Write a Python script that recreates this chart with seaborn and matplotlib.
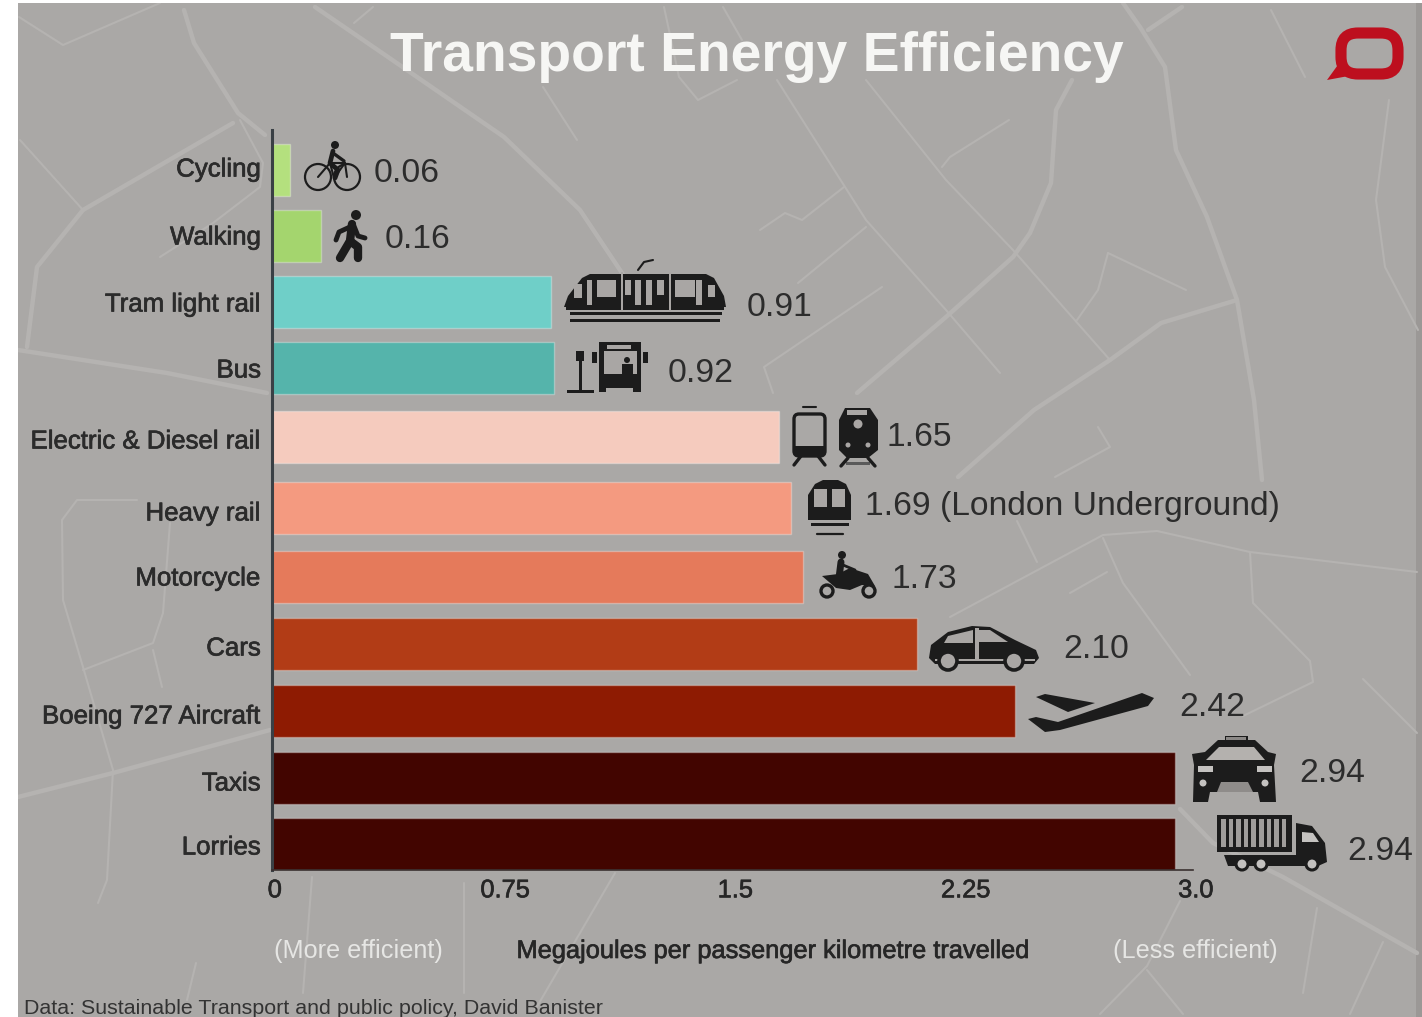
#!/usr/bin/python

import matplotlib
matplotlib.use("Agg")
import matplotlib.pyplot as plt
import matplotlib.patheffects as pe
from matplotlib.patches import Circle, FancyBboxPatch, Polygon, Rectangle
from matplotlib.transforms import ScaledTranslation
import pandas as pd
import seaborn as sns

W, H = 1422, 1017

categories = ["Cycling", "Walking", "Tram light rail", "Bus", "Electric & Diesel rail", "Heavy rail",
              "Motorcycle", "Cars", "Boeing 727 Aircraft", "Taxis", "Lorries"]
values = [0.06, 0.16, 0.91, 0.92, 1.65, 1.69, 1.73, 2.10, 2.42, 2.94, 2.94]
value_labels = ["0.06", "0.16", "0.91", "0.92", "1.65", "1.69 (London Underground)", "1.73",
                "2.10", "2.42", "2.94", "2.94"]
colours = ["#b4e07e", "#a4d56e", "#6fcfc8", "#55b4ab", "#f5cbbe", "#f49a80", "#e57a5b",
           "#b23c16", "#8e1b02", "#420500", "#420500"]
tick_values = [0, 0.75, 1.5, 2.25, 3.0]
tick_labels = ["0", "0.75", "1.5", "2.25", "3.0"]

# the rows are not evenly spaced in the picture, so y is in picture pixels
bar_rows = [170, 236, 302, 368, 437, 508, 577, 644, 711, 778, 844]
label_rows = [167, 235, 302, 368, 439, 511, 576, 646, 714, 781, 845]

# where each number label starts, in px past the bar end (icons sit in the gap)
label_gaps = [83, 64, 195, 113, 108, 74, 88, 147, 164, 125, 173]
label_shift = [4, 4, 5, 5, 1, -2, 3, 6, -4, -4, 8]

# street map behind the chart, picture pixels
main_roads = [
    [(1123, 3), (1140, 27), (1165, 67), (1176, 150), (1207, 217), (1237, 300), (1254, 400), (1262, 480)],
    [(1182, 7), (1148, 30)],
    [(1237, 300), (1161, 323), (1110, 360), (1034, 410), (958, 477)],
    [(1072, 80), (1056, 110), (1051, 183), (1030, 233), (1013, 257), (946, 317), (857, 393)],
    [(315, 7), (388, 57), (504, 137), (580, 210), (640, 300)],
    [(184, 10), (194, 43), (238, 113), (265, 135)],
    [(18, 797), (113, 773), (270, 730)],
    [(18, 350), (167, 373), (267, 393)],
    [(1180, 809), (1213, 843), (1283, 877), (1417, 953)],
    [(233, 123), (83, 210), (37, 267), (27, 347)],
]
side_roads = [
    [(866, 80), (946, 180), (1013, 250), (1110, 360)],
    [(777, 80), (866, 220), (946, 310), (1000, 373)],
    [(866, 227), (798, 283)],
    [(844, 187), (802, 220), (785, 213), (760, 230)],
    [(882, 287), (764, 367), (773, 393)],
    [(1009, 120), (950, 157), (942, 167)],
    [(1108, 253), (1186, 290)],
    [(1108, 253), (1098, 290), (1077, 320)],
    [(1389, 100), (1376, 200), (1385, 267), (1418, 330)],
    [(1271, 10), (1305, 77)],
    [(1098, 427), (1110, 447), (1055, 477)],
    [(950, 617), (1103, 535), (1157, 531), (1250, 552), (1417, 572)],
    [(1103, 538), (1123, 583), (1190, 675)],
    [(1250, 552), (1253, 603), (1310, 661), (1313, 682), (1243, 716)],
    [(1017, 521), (1037, 562)],
    [(1070, 593), (1107, 572)],
    [(1363, 679), (1417, 733)],
    [(1180, 901), (1147, 966), (1100, 1014)],
    [(1383, 942), (1350, 1014)],
    [(1147, 970), (1183, 1014)],
    [(1317, 908), (1303, 993)],
    [(19, 17), (63, 45), (160, 3)],
    [(373, 7), (354, 23)],
    [(543, 87), (577, 140)],
    [(664, 7), (679, 77), (698, 100), (737, 80)],
    [(723, 7), (742, 40)],
    [(20, 140), (83, 210)],
    [(240, 120), (263, 163), (260, 187), (213, 223), (160, 257)],
    [(137, 500), (77, 500), (62, 520), (63, 600), (83, 667), (113, 770), (107, 880), (98, 903)],
    [(170, 523), (163, 613), (153, 643), (83, 670)],
    [(153, 650), (162, 687)],
    [(312, 877), (303, 993)],
    [(464, 883), (464, 993)],
    [(196, 963), (187, 1000)],
    [(615, 873), (535, 1010)],
]

sns.set_style("white")
plt.rcParams["font.family"] = ["Liberation Sans", "DejaVu Sans"]

fig = plt.figure(figsize=(W / 100, H / 100), dpi=100, facecolor="white")

# background layer in pixels
bg = fig.add_axes([0, 0, 1, 1], zorder=0)
bg.set_xlim(0, W)
bg.set_ylim(H, 0)
bg.axis("off")
paper = Rectangle((18, 3), W - 18, H - 3, color="#aaa8a6", lw=0)
bg.add_patch(paper)
for s in main_roads + side_roads:
    xs, ys = zip(*s)
    width = 3.2 if s in main_roads else 1.5
    line, = bg.plot(xs, ys, color="#b5b3b1", lw=width, solid_capstyle="round", solid_joinstyle="round")
    line.set_clip_path(paper)
bg.add_patch(Rectangle((1416, 3), 6, H - 3, color="#9b9896", lw=0))

# the chart
df = pd.DataFrame({"category": categories, "value": values, "row": bar_rows})
ax = fig.add_axes([272 / W, 1 - 870 / H, (1193 - 272) / W, (870 - 130) / H], zorder=1)
ax.patch.set_alpha(0)
sns.barplot(data=df, x="value", y="row", hue="category", hue_order=categories, orient="y", native_scale=True,
            palette=colours, saturation=1, width=52.5 / 66, legend=False, edgecolor=(1, 1, 1, 0.3), linewidth=1,
            ax=ax)
ax.set_xlim(0, 3.0)
ax.set_ylim(870, 130)
ax.set_xticks(tick_values)
ax.set_xticklabels(tick_labels, fontsize=18.3, color="#262626")
ax.set_yticks(label_rows)
ax.set_yticklabels(categories)
ax.set_xlabel("")
ax.set_ylabel("")
ax.tick_params(axis="y", labelsize=18.6, labelcolor="#2b2b2b", length=0, pad=8)
ax.tick_params(axis="x", length=0, pad=6)
sns.despine(ax=ax)
ax.spines["left"].set_color("#3a4045")
ax.spines["left"].set_linewidth(2.2)
ax.spines["bottom"].set_color("#3a3030")
ax.spines["bottom"].set_linewidth(1.2)
nudge = ScaledTranslation(2 / 72, 0, fig.dpi_scale_trans)
for lab in ax.get_xticklabels():
    lab.set_transform(lab.get_transform() + nudge)
heavy = [pe.withStroke(linewidth=0.5, foreground="#2b2b2b")]
for lab in ax.get_xticklabels() + ax.get_yticklabels():
    lab.set_path_effects(heavy)

for i, v in enumerate(values):
    ax.annotate(value_labels[i], (v, bar_rows[i]), xytext=(label_gaps[i] * 0.72, label_shift[i] * -0.72),
                textcoords="offset points", va="center", ha="left", fontsize=24.2, color="#2c2c2c")

# icons and the loose text go on a top layer, again in pixels
top = fig.add_axes([0, 0, 1, 1], zorder=2)
top.set_xlim(0, W)
top.set_ylim(H, 0)
top.axis("off")
top.patch.set_alpha(0)

INK = "#1c1c1c"
GREY = "#a9a6a4"


def poly(pts, c=INK):
    top.add_patch(Polygon(pts, closed=True, color=c, lw=0))


def rect(x, y, w, h, c=INK):
    top.add_patch(Rectangle((x, y), w, h, color=c, lw=0))


def wheel(x, y, r, lw=2.0, face="none"):
    top.add_patch(Circle((x, y), r, facecolor=face, edgecolor=INK, lw=lw))


def stroke(pts, lw=3, c=INK):
    xs, ys = zip(*pts)
    top.plot(xs, ys, color=c, lw=lw, solid_capstyle="round", solid_joinstyle="round")


# bicycle
wheel(318, 177, 13, 1.6)
wheel(347, 177, 13, 1.6)
stroke([(318, 177), (330, 163), (345, 163), (347, 177)], 1.5)
stroke([(330, 163), (334, 178), (345, 163)], 1.5)
top.add_patch(Circle((335, 145), 4, color=INK, lw=0))
stroke([(333, 151), (330, 163), (338, 170), (335, 178)], 3.4)
stroke([(333, 153), (344, 161)], 2.4)

# walker
top.add_patch(Circle((356, 215), 5, color=INK, lw=0))
stroke([(352, 224), (350, 241), (340, 258)], 6)
stroke([(350, 241), (358, 247), (358, 258)], 6)
stroke([(352, 226), (339, 232), (336, 240)], 3.5)
stroke([(354, 226), (358, 236), (365, 238)], 3.5)

# tram
poly([(564, 307), (568, 296), (582, 278), (590, 274), (706, 274), (714, 278), (724, 296), (726, 307)])
rect(566, 307, 158, 3, INK)
for x, y, w, h in [(574, 284, 8, 14), (597, 280, 19, 17), (625, 280, 6, 15), (635, 280, 6, 25), (646, 280, 6, 25),
                   (657, 280, 7, 15), (675, 280, 20, 17), (696, 280, 6, 25), (708, 285, 7, 12), (587, 280, 5, 25)]:
    rect(x, y, w, h, GREY)
rect(570, 312, 152, 2.5, INK)
rect(570, 319, 150, 3, INK)
rect(621, 272, 2, 40, GREY)
rect(669, 272, 2, 40, GREY)
stroke([(638, 270), (644, 262), (653, 260)], 1.5)

# bus with stop
rect(567, 390, 27, 2.5)
rect(579, 360, 2.5, 30)
rect(576, 351, 8, 10)
poly([(599, 342), (641, 342), (641, 392), (633, 392), (633, 388), (606, 388), (606, 392), (599, 392)])
rect(604, 351, 33, 23, GREY)
rect(607, 345, 24, 4, GREY)
rect(592, 352, 5, 11)
rect(643, 352, 5, 11)
top.add_patch(Circle((627, 360), 3, color=INK, lw=0))
rect(622, 364, 11, 10)

# electric train outline and diesel train
top.add_patch(FancyBboxPatch((794, 414), 31, 42, boxstyle="round,pad=0,rounding_size=5", facecolor="none",
                             edgecolor=INK, lw=2.4))
rect(794, 446, 31, 9)
stroke([(803, 407), (816, 407)], 1.5)
stroke([(801, 456), (794, 465)], 2.4)
stroke([(818, 456), (825, 465)], 2.4)
poly([(845, 408), (870, 408), (878, 420), (878, 450), (868, 458), (847, 458), (839, 450), (839, 420)])
rect(847, 410, 20, 5, GREY)
top.add_patch(Circle((858, 424), 4.5, color=GREY, lw=0))
top.add_patch(Circle((848, 445), 2.5, color=GREY, lw=0))
top.add_patch(Circle((868, 445), 2.5, color=GREY, lw=0))
stroke([(848, 458), (841, 466)], 2.4)
stroke([(868, 458), (875, 466)], 2.4)
rect(846, 462, 24, 3, "#5a5a5a")

# underground train
poly([(808, 520), (808, 495), (815, 484), (823, 480), (838, 480), (846, 484), (851, 495), (851, 520)])
rect(814, 489, 13, 18, GREY)
rect(832, 489, 13, 18, GREY)
rect(811, 523, 38, 2.5)
stroke([(817, 534), (843, 534)], 1.6)

# motorcycle
wheel(827, 591, 6, 2.4)
wheel(869, 591, 6, 2.4)
poly([(822, 576), (838, 574), (850, 568), (868, 574), (875, 586), (862, 585), (850, 590), (836, 588)])
top.add_patch(Circle((842, 555), 4, color=INK, lw=0))
stroke([(841, 562), (839, 578)], 5)
stroke([(843, 565), (855, 570)], 2)

# car
poly([(929, 658), (931, 645), (948, 632), (972, 626), (990, 627), (1015, 640), (1036, 650), (1039, 658), (1034, 664),
      (935, 664)])
poly([(948, 636), (973, 630), (973, 643), (944, 643)], GREY)
poly([(979, 630), (990, 630), (1008, 642), (979, 642)], GREY)
rect(975, 628, 4, 32, GREY)
rect(935, 659, 100, 2, GREY)
for x in (948, 1014):
    top.add_patch(Circle((x, 661), 9, facecolor=GREY, edgecolor=INK, lw=2.6))

# plane
poly([(1036, 697), (1045, 694), (1095, 703), (1068, 712)])
poly([(1028, 719), (1036, 717), (1058, 722), (1142, 693), (1154, 698), (1148, 706), (1060, 730), (1045, 732)])

# taxi
poly([(1192, 754), (1205, 752), (1218, 740), (1225, 740), (1225, 736), (1248, 736), (1248, 740), (1255, 740),
      (1268, 752), (1276, 754), (1274, 765), (1276, 802), (1260, 802), (1258, 792), (1210, 792), (1208, 802),
      (1193, 802), (1194, 765)])
poly([(1206, 760), (1219, 747), (1254, 747), (1265, 760)], "#b4b1ae")
rect(1198, 766, 15, 6, "#c4c2c0")
rect(1257, 766, 15, 6, "#c4c2c0")
rect(1226, 737, 20, 3, "#8b8886")
top.add_patch(Circle((1203, 783), 3.5, color="#c4c2c0", lw=0))
top.add_patch(Circle((1265, 783), 3.5, color="#c4c2c0", lw=0))
poly([(1217, 792), (1221, 782), (1248, 782), (1253, 792)], "#8f8c8a")

# lorry
rect(1217, 815, 75, 37)
for k in range(9):
    rect(1221 + k * 7.6, 819, 4.6, 28, "#a09d9b")
poly([(1296, 823), (1312, 826), (1325, 843), (1327, 862), (1318, 866), (1228, 866), (1224, 855), (1296, 855)])
poly([(1302, 832), (1313, 833), (1319, 842), (1302, 842)], "#c4c2c0")
for x in (1242, 1261, 1312):
    top.add_patch(Circle((x, 864), 6, facecolor="#c4c2c0", edgecolor=INK, lw=2.2))

# logo: speech bubble
top.add_patch(FancyBboxPatch((1341, 33), 57, 41, boxstyle="round,pad=0,rounding_size=17", facecolor="none",
                             edgecolor="#bd0f1e", lw=8))
poly([(1327, 80), (1340, 62), (1354, 75)], "#bd0f1e")

top.text(757, 57, "Transport Energy Efficiency", ha="center", va="center", fontsize=39.8, fontweight="bold",
         color="#f6f6f4")
top.text(358, 951, "(More efficient)", ha="center", va="center", fontsize=18.2, color="#e6e6e4")
top.text(774, 951, "Megajoules per passenger kilometre travelled", ha="center", va="center", fontsize=18.3,
         color="#262626", path_effects=heavy)
top.text(1195, 951, "(Less efficient)", ha="center", va="center", fontsize=18.2, color="#e6e6e4")
top.text(24, 1009, "Data: Sustainable Transport and public policy, David Banister", ha="left", va="center",
         fontsize=15.4, color="#333333")

fig.savefig("out.png", dpi=100)
plt.close()
